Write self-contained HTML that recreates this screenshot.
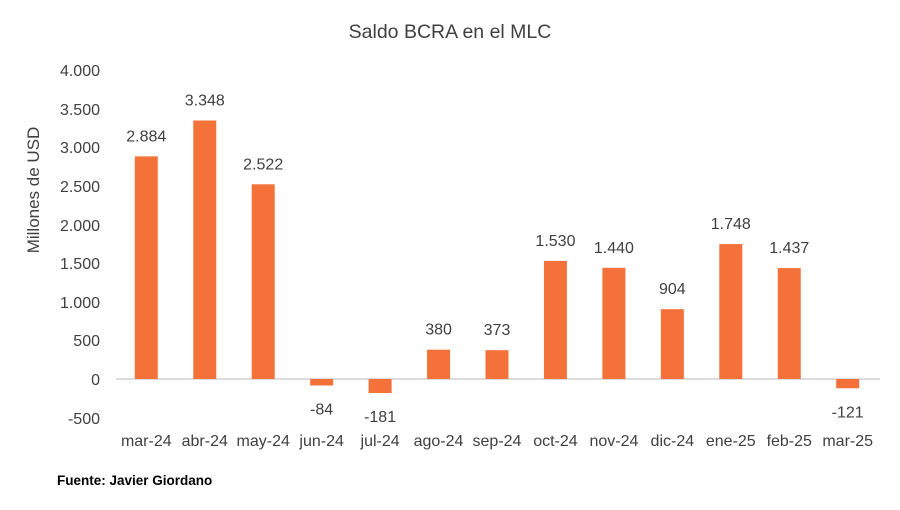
<!DOCTYPE html>
<html><head><meta charset="utf-8"><style>
body{margin:0;background:#fff;}
svg text{font-family:"Liberation Sans",sans-serif;fill:#404040;}
</style></head><body>
<svg width="900" height="505" xmlns="http://www.w3.org/2000/svg">
<rect width="900" height="505" fill="#fff"/>
<text x="450" y="38" font-size="19.5" text-anchor="middle">Saldo BCRA en el MLC</text>
<text transform="translate(39,190) rotate(-90)" font-size="17" text-anchor="middle">Millones de USD</text>
<g font-size="16" text-anchor="end">
<text x="100" y="76">4.000</text>
<text x="100" y="115">3.500</text>
<text x="100" y="153">3.000</text>
<text x="100" y="192">2.500</text>
<text x="100" y="231">2.000</text>
<text x="100" y="269">1.500</text>
<text x="100" y="308">1.000</text>
<text x="100" y="346">500</text>
<text x="100" y="385">0</text>
<text x="100" y="424">-500</text>
</g>
<line x1="116" y1="379" x2="880" y2="379" stroke="#d0d0d0" stroke-width="1.5"/>
<g fill="#F4713A">
<rect x="134.8" y="156.4" width="23" height="222.6"/>
<rect x="193.25" y="120.5" width="23" height="258.5"/>
<rect x="251.7" y="184.3" width="23" height="194.7"/>
<rect x="310.15" y="379" width="23" height="6.5"/>
<rect x="368.6" y="379" width="23" height="14"/>
<rect x="427.05" y="349.7" width="23" height="29.3"/>
<rect x="485.5" y="350.2" width="23" height="28.8"/>
<rect x="543.95" y="260.9" width="23" height="118.1"/>
<rect x="602.4" y="267.8" width="23" height="111.2"/>
<rect x="660.85" y="309.2" width="23" height="69.8"/>
<rect x="719.3" y="244.1" width="23" height="134.9"/>
<rect x="777.75" y="268.1" width="23" height="110.9"/>
<rect x="836.2" y="379" width="23" height="9.3"/>
</g>
<g font-size="16" text-anchor="middle">
<text x="146.3" y="141.4">2.884</text>
<text x="204.75" y="105.5">3.348</text>
<text x="263.2" y="169.3">2.522</text>
<text x="321.65" y="414.5">-84</text>
<text x="380.1" y="422">-181</text>
<text x="438.55" y="334.7">380</text>
<text x="497" y="335.2">373</text>
<text x="555.45" y="245.9">1.530</text>
<text x="613.9" y="252.8">1.440</text>
<text x="672.35" y="294.2">904</text>
<text x="730.8" y="229.1">1.748</text>
<text x="789.25" y="253.1">1.437</text>
<text x="847.7" y="417.3">-121</text>
</g>
<g font-size="16" text-anchor="middle">
<text x="146.3" y="446">mar-24</text>
<text x="204.75" y="446">abr-24</text>
<text x="263.2" y="446">may-24</text>
<text x="321.65" y="446">jun-24</text>
<text x="380.1" y="446">jul-24</text>
<text x="438.55" y="446">ago-24</text>
<text x="497" y="446">sep-24</text>
<text x="555.45" y="446">oct-24</text>
<text x="613.9" y="446">nov-24</text>
<text x="672.35" y="446">dic-24</text>
<text x="730.8" y="446">ene-25</text>
<text x="789.25" y="446">feb-25</text>
<text x="847.7" y="446">mar-25</text>
</g>
<text x="57" y="485" font-size="13.5" font-weight="bold" style="fill:#000">Fuente: Javier Giordano</text>
</svg>
</body></html>
